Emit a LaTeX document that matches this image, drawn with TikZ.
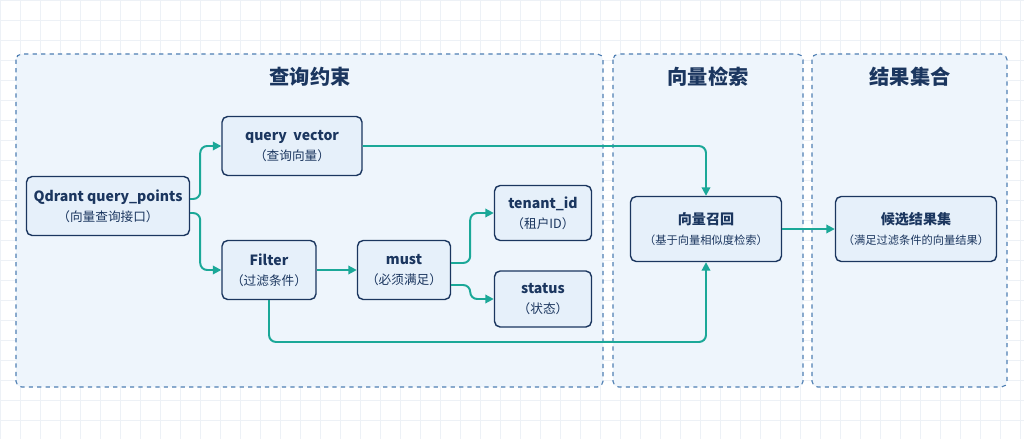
\documentclass[tikz,border=0pt]{standalone}
\usepackage{fontspec}
\setmainfont{Noto Sans CJK SC}
\usetikzlibrary{arrows.meta}
\definecolor{navy}{HTML}{1B365F}
\definecolor{boxfill}{HTML}{E6F0FA}
\definecolor{grpfill}{HTML}{EEF5FC}
\definecolor{grpline}{HTML}{4F7FB3}
\definecolor{teal}{HTML}{1BA898}
\definecolor{gridc}{HTML}{EDF1F6}
\begin{document}
\begin{tikzpicture}[x=0.025cm, y=-0.025cm,
  grp/.style={draw=grpline, dashed, fill=grpfill, rounded corners=4pt, line width=0.8pt},
  title/.style={font=\bfseries\Large, text=navy},
  box/.style={draw=navy, fill=boxfill, rounded corners=4pt, line width=1pt, align=center, text=navy, inner sep=0pt},
  n/.style={-{Triangle[length=6pt,width=6pt]}, draw=teal, line width=1.4pt, rounded corners=5pt}]
  \useasboundingbox (0,0) rectangle (1024,439);
  % background grid
  \fill[white] (0,0) rectangle (1024,439);
  \draw[gridc, step=0.5cm] (0,0) grid (1024,439);
  % groups
  \draw[grp] (16,54) rectangle (603,387);
  \draw[grp] (613,54) rectangle (803,387);
  \draw[grp] (812,54) rectangle (1007,387);
  \node[title] (t1) at (310,77) {查询约束};
  \node[title] (t2) at (708,77) {向量检索};
  \node[title] (t3) at (910,77) {结果集合};
  % nodes
  \node[box, minimum width=163*0.025cm, minimum height=59*0.025cm] (qd) at (108,206) {\textbf{Qdrant query\_points}\\[2pt]{\small（向量查询接口）}};
  \node[box, minimum width=140*0.025cm, minimum height=59*0.025cm] (qv) at (292,146) {\textbf{query\ \ vector}\\[2pt]{\small（查询向量）}};
  \node[box, minimum width=94*0.025cm, minimum height=59*0.025cm] (fi) at (269,270) {\textbf{Filter}\\[2pt]{\small（过滤条件）}};
  \node[box, minimum width=93*0.025cm, minimum height=59*0.025cm] (mu) at (404,270) {\textbf{must}\\[2pt]{\small（必须满足）}};
  \node[box, minimum width=97*0.025cm, minimum height=55*0.025cm] (ti) at (543,213) {\textbf{tenant\_id}\\[2pt]{\small（租户ID）}};
  \node[box, minimum width=97*0.025cm, minimum height=56*0.025cm] (st) at (543,299) {\textbf{status}\\[2pt]{\small（状态）}};
  \node[box, minimum width=151*0.025cm, minimum height=65*0.025cm] (rc) at (706,229) {\textbf{向量召回}\\[2pt]{\footnotesize（基于向量相似度检索）}};
  \node[box, minimum width=161*0.025cm, minimum height=65*0.025cm] (cs) at (916,229) {\textbf{候选结果集}\\[2pt]{\footnotesize（满足过滤条件的向量结果）}};
  % edges
  \draw[n] ([yshift=7*0.025cm]qd.east) -- ++(10,0) |- (qv.west);
  \draw[n] ([yshift=-7*0.025cm]qd.east) -- ++(10,0) |- (fi.west);
  \draw[n] (qv.east) -| (rc.north);
  \draw[n] (fi.south) |- (500,342) -| (rc.south);
  \draw[n] (fi.east) -- (mu.west);
  \draw[n] ([yshift=7*0.025cm]mu.east) -- ++(19,0) |- (ti.west);
  \draw[n] ([yshift=-15*0.025cm]mu.east) -- ++(19,0) |- (st.west);
  \draw[n] (rc.east) -- (cs.west);
\end{tikzpicture}
\end{document}
